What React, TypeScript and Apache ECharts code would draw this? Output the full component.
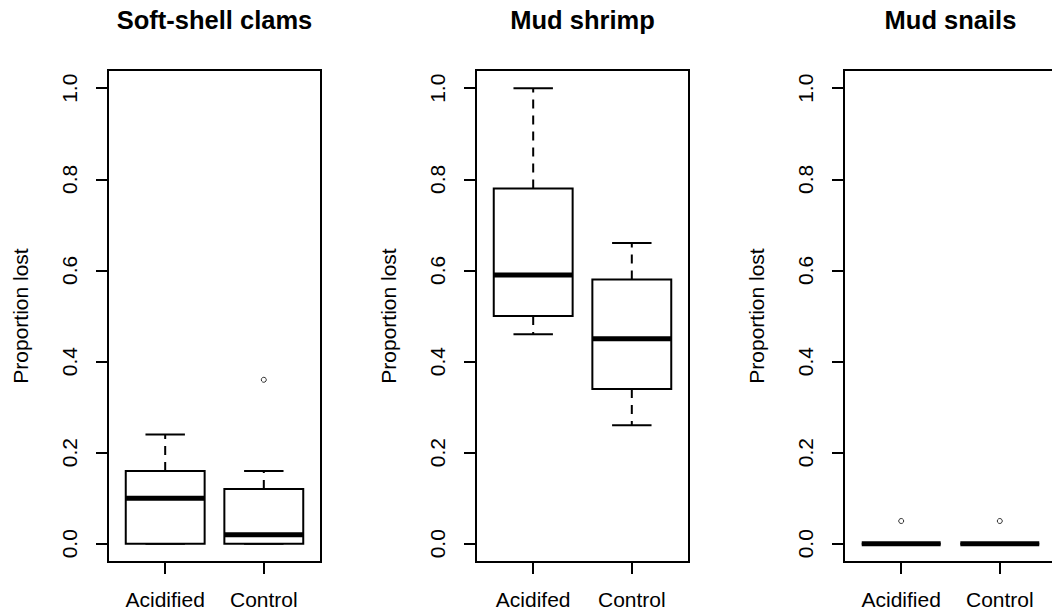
import React, { useEffect, useRef } from "react";
import * as echarts from "echarts";

// Panel titles and group names
const panelTitles = ["Soft-shell clams", "Mud shrimp", "Mud snails"];
const clamsGroups = ["Acidified", "Control"];
const shrimpGroups = ["Acidifed", "Control"];
const snailsGroups = ["Acidified", "Control"];

// Box statistics per group: [lower whisker, Q1, median, Q3, upper whisker]
const clamsStats = [
  [0, 0, 0.1, 0.16, 0.24],
  [0, 0, 0.02, 0.12, 0.16],
];
const shrimpStats = [
  [0.46, 0.5, 0.59, 0.78, 1.0],
  [0.26, 0.34, 0.45, 0.58, 0.66],
];
const snailsStats = [
  [0, 0, 0, 0, 0],
  [0, 0, 0, 0, 0],
];

// Outliers: [group position (1-based), value]
const clamsOutliers = [[2, 0.36]];
const shrimpOutliers: number[][] = [];
const snailsOutliers = [
  [1, 0.05],
  [2, 0.05],
];

// y-axis ticks
const yTicks = [0, 0.2, 0.4, 0.6, 0.8, 1.0];

const FONT = '"Liberation Sans", Arial, Helvetica, sans-serif';
const BOX_WIDTH = 0.8;
const GRID_LEFTS = [108, 476, 844];
const GRID_TOP = 70;
const GRID_W = 213;
const GRID_H = 492;

function renderBox(params: any, api: any) {
  const x = api.value(0);
  const lo = api.value(1);
  const q1 = api.value(2);
  const med = api.value(3);
  const q3 = api.value(4);
  const hi = api.value(5);
  const boxW = api.size([BOX_WIDTH, 0])[0];
  const capW = boxW * 0.5;
  const pLo = api.coord([x, lo]);
  const pQ1 = api.coord([x, q1]);
  const pMed = api.coord([x, med]);
  const pQ3 = api.coord([x, q3]);
  const pHi = api.coord([x, hi]);
  const cx = pMed[0];
  const solid = { stroke: "#000", lineWidth: 2, fill: null };
  const dashed = { stroke: "#000", lineWidth: 2, lineDash: [9, 7] };
  return {
    type: "group",
    children: [
      { type: "line", shape: { x1: cx, y1: pQ3[1], x2: cx, y2: pHi[1] }, style: dashed },
      { type: "line", shape: { x1: cx, y1: pQ1[1], x2: cx, y2: pLo[1] }, style: dashed },
      { type: "line", shape: { x1: cx - capW / 2, y1: pHi[1], x2: cx + capW / 2, y2: pHi[1] }, style: solid },
      { type: "line", shape: { x1: cx - capW / 2, y1: pLo[1], x2: cx + capW / 2, y2: pLo[1] }, style: solid },
      {
        type: "rect",
        shape: { x: cx - boxW / 2, y: pQ3[1], width: boxW, height: pQ1[1] - pQ3[1] },
        style: { stroke: "#000", lineWidth: 2, fill: "#fff" },
      },
      {
        type: "line",
        shape: { x1: cx - boxW / 2, y1: pMed[1], x2: cx + boxW / 2, y2: pMed[1] },
        style: { stroke: "#000", lineWidth: 5, lineCap: "butt" },
      },
    ],
  };
}

export default function App() {
  const ref = useRef<HTMLDivElement>(null);

  useEffect(() => {
    if (!ref.current) return;
    const chart = echarts.init(ref.current, undefined, { renderer: "svg" });

    const groups = [clamsGroups, shrimpGroups, snailsGroups];
    const stats = [clamsStats, shrimpStats, snailsStats];
    const outliers = [clamsOutliers, shrimpOutliers, snailsOutliers];

    const grid = GRID_LEFTS.map((left) => ({
      left,
      top: GRID_TOP,
      width: GRID_W,
      height: GRID_H,
      show: true,
      borderColor: "#000",
      borderWidth: 2,
      backgroundColor: "transparent",
      outerBoundsMode: "none",
      containLabel: false,
    }));

    const xAxis = groups.map((names, i) => ({
      type: "value",
      gridIndex: i,
      position: "bottom",
      min: 0.42,
      max: 2.58,
      axisLine: { show: false, onZero: false },
      splitLine: { show: false },
      axisTick: {
        show: true,
        customValues: [1, 2],
        length: 12,
        lineStyle: { color: "#000", width: 2 },
      },
      axisLabel: {
        customValues: [1, 2],
        formatter: (v: number) => names[Math.round(v) - 1],
        fontSize: 21,
        fontFamily: FONT,
        color: "#000",
        margin: 27,
      },
    }));

    const yAxis = groups.map((_, i) => ({
      type: "value",
      gridIndex: i,
      position: "left",
      min: -0.04,
      max: 1.04,
      name: "Proportion lost",
      nameLocation: "middle",
      nameGap: 77,
      nameTextStyle: { fontSize: 21, fontFamily: FONT, color: "#000" },
      axisLine: { show: false, onZero: false },
      splitLine: { show: false },
      axisTick: {
        show: true,
        customValues: yTicks,
        length: 12,
        lineStyle: { color: "#000", width: 2 },
      },
      axisLabel: {
        customValues: yTicks,
        rotate: 90,
        formatter: (v: number) => v.toFixed(1),
        fontSize: 21,
        fontFamily: FONT,
        color: "#000",
        margin: 28,
      },
    }));

    const series: any[] = [];
    stats.forEach((s, i) => {
      series.push({
        type: "custom",
        xAxisIndex: i,
        yAxisIndex: i,
        renderItem: renderBox,
        encode: { x: 0, y: [1, 2, 3, 4, 5] },
        data: s.map((row, k) => [k + 1, ...row]),
        z: 2,
      });
      series.push({
        type: "scatter",
        xAxisIndex: i,
        yAxisIndex: i,
        symbol: "circle",
        symbolSize: 5,
        itemStyle: { color: "#fff", borderColor: "#000", borderWidth: 1 },
        data: outliers[i],
        z: 3,
      });
    });

    const graphic = panelTitles.map((t, i) => ({
      type: "text",
      x: GRID_LEFTS[i] + GRID_W / 2,
      y: 19.5,
      style: {
        text: t,
        fontSize: 25.5,
        fontWeight: "bold",
        fontFamily: FONT,
        fill: "#000",
        textAlign: "center",
        textVerticalAlign: "middle",
      },
    }));

    chart.setOption({
      animation: false,
      backgroundColor: "#fff",
      grid,
      xAxis,
      yAxis,
      series,
      graphic,
    });

    return () => chart.dispose();
  }, []);

  return (
    <div
      ref={ref}
      style={{ position: "fixed", left: 0, top: 0, width: 1052, height: 615 }}
    />
  );
}
